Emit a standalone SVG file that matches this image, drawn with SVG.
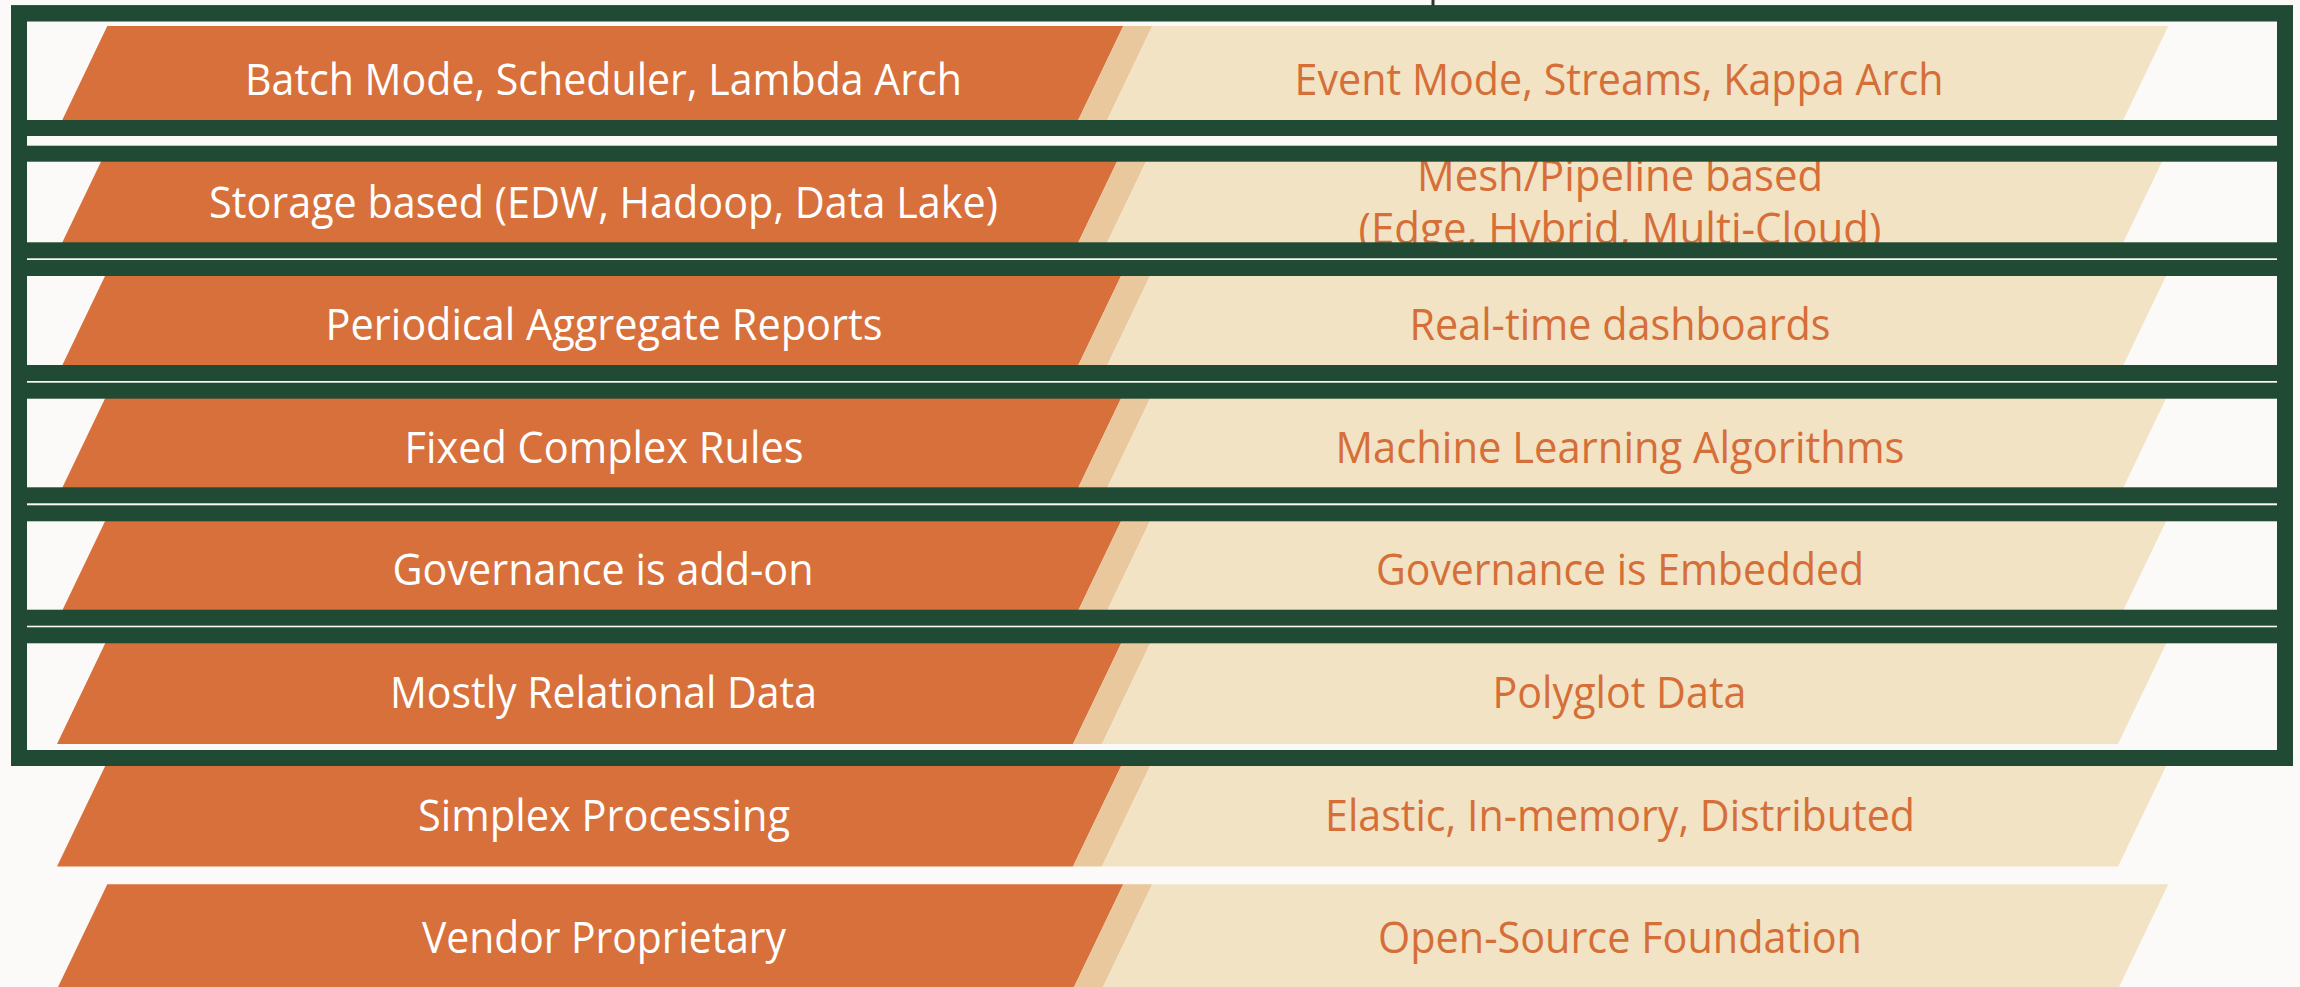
<svg xmlns="http://www.w3.org/2000/svg" xmlns:xlink="http://www.w3.org/1999/xlink" width="2300" height="987" viewBox="0 0 2300 987">
<style>
.lt{font-family:"Open Sans","Noto Sans","Liberation Sans",sans-serif;font-size:44px;fill:#FFFFFF;text-anchor:middle}
.rt{font-family:"Open Sans","Noto Sans","Liberation Sans",sans-serif;font-size:44px;fill:#D66E38;text-anchor:middle}
.frame{fill:none;stroke:#214A34;stroke-width:16}
</style>
<defs>
<path id="orange" d="M107.3,0 L1123.3,0 L1073,105 L57,105 Z" fill="#D8703B"/>
<path id="stripe" d="M1123.3,0 L1152.3,0 L1102,105 L1073,105 Z" fill="#E9C89E"/>
<path id="cream" d="M1152.3,0 L2168.3,0 L2118,105 L1102,105 Z" fill="#F1E3C4"/>
</defs>
<rect x="0" y="0" width="2300" height="987" fill="#FBFAF8"/>
<line x1="1433" y1="0" x2="1433" y2="6" stroke="#333333" stroke-width="3"/>

<g id="row1">
<g transform="translate(0,26)"><use xlink:href="#orange"/><use xlink:href="#stripe"/><use xlink:href="#cream"/></g>
<text class="lt" x="603.5" y="95" textLength="717" lengthAdjust="spacingAndGlyphs">Batch Mode, Scheduler, Lambda Arch</text>
<text class="rt" x="1619" y="95" textLength="649" lengthAdjust="spacingAndGlyphs">Event Mode, Streams, Kappa Arch</text>
</g>
<g id="row2">
<g transform="translate(0,148.6)"><use xlink:href="#orange"/><use xlink:href="#stripe"/><use xlink:href="#cream"/></g>
<text class="lt" x="603.5" y="217.6" textLength="789" lengthAdjust="spacingAndGlyphs">Storage based (EDW, Hadoop, Data Lake)</text>
<text class="rt" x="1620" y="191.1" textLength="406" lengthAdjust="spacingAndGlyphs">Mesh/Pipeline based</text>
<text class="rt" x="1620" y="244.1" textLength="523" lengthAdjust="spacingAndGlyphs">(Edge, Hybrid, Multi-Cloud)</text>
</g>
<g id="row3">
<g transform="translate(0,271.2)"><use xlink:href="#orange"/><use xlink:href="#stripe"/><use xlink:href="#cream"/></g>
<text class="lt" x="604" y="340.2" textLength="557" lengthAdjust="spacingAndGlyphs">Periodical Aggregate Reports</text>
<text class="rt" x="1620" y="340.2" textLength="421" lengthAdjust="spacingAndGlyphs">Real-time dashboards</text>
</g>
<g id="row4">
<g transform="translate(0,393.8)"><use xlink:href="#orange"/><use xlink:href="#stripe"/><use xlink:href="#cream"/></g>
<text class="lt" x="604" y="462.8" textLength="399" lengthAdjust="spacingAndGlyphs">Fixed Complex Rules</text>
<text class="rt" x="1620" y="462.8" textLength="569" lengthAdjust="spacingAndGlyphs">Machine Learning Algorithms</text>
</g>
<g id="row5">
<g transform="translate(0,516.4)"><use xlink:href="#orange"/><use xlink:href="#stripe"/><use xlink:href="#cream"/></g>
<text class="lt" x="603" y="585.4" textLength="421" lengthAdjust="spacingAndGlyphs">Governance is add-on</text>
<text class="rt" x="1620" y="585.4" textLength="488" lengthAdjust="spacingAndGlyphs">Governance is Embedded</text>
</g>
<g id="row6">
<g transform="translate(0,639)"><use xlink:href="#orange"/><use xlink:href="#stripe"/><use xlink:href="#cream"/></g>
<text class="lt" x="603.5" y="708" textLength="427" lengthAdjust="spacingAndGlyphs">Mostly Relational Data</text>
<text class="rt" x="1619.5" y="708" textLength="254" lengthAdjust="spacingAndGlyphs">Polyglot Data</text>
</g>
<g id="row7">
<g transform="translate(0,761.6)"><use xlink:href="#orange"/><use xlink:href="#stripe"/><use xlink:href="#cream"/></g>
<text class="lt" x="604" y="830.6" textLength="372" lengthAdjust="spacingAndGlyphs">Simplex Processing</text>
<text class="rt" x="1620" y="830.6" textLength="590" lengthAdjust="spacingAndGlyphs">Elastic, In-memory, Distributed</text>
</g>
<g id="row8">
<g transform="translate(0,884.2)"><use xlink:href="#orange"/><use xlink:href="#stripe"/><use xlink:href="#cream"/></g>
<text class="lt" x="604" y="953.2" textLength="364" lengthAdjust="spacingAndGlyphs">Vendor Proprietary</text>
<text class="rt" x="1620" y="953.2" textLength="484" lengthAdjust="spacingAndGlyphs">Open-Source Foundation</text>
</g>

<g id="frames">
<rect class="frame" x="19" y="13.3" width="2266" height="744.7"/>
<rect class="frame" x="19" y="13.3" width="2266" height="114.7"/>
<rect class="frame" x="19" y="153.7" width="2266" height="96.6"/>
<rect class="frame" x="19" y="268" width="2266" height="105"/>
<rect class="frame" x="19" y="390.7" width="2266" height="104.6"/>
<rect class="frame" x="19" y="513.3" width="2266" height="104.4"/>
<rect class="frame" x="19" y="635.3" width="2266" height="122.7"/>
</g>
</svg>
